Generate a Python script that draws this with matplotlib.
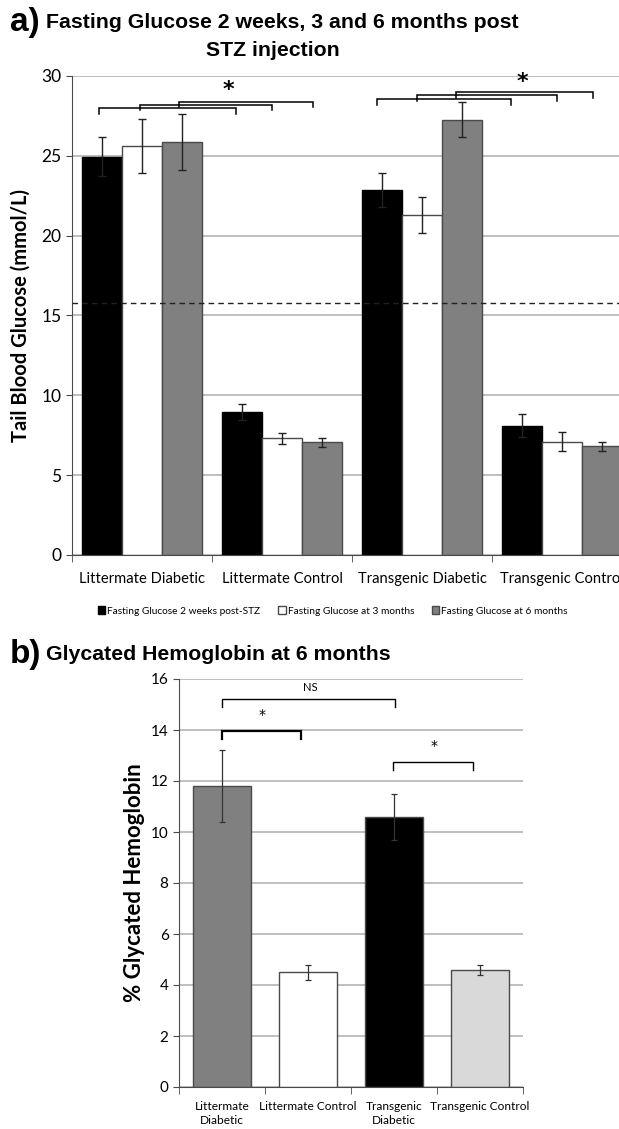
import matplotlib.pyplot as plt
import numpy as np

# panel a data
groups_a = ["Littermate Diabetic", "Littermate Control", "Transgenic Diabetic", "Transgenic Control"]
series_a = ["Fasting Glucose 2 weeks post-STZ", "Fasting Glucose at 3 months", "Fasting Glucose at 6 months"]
wk2 = [24.95, 8.95, 22.85, 8.1]
wk2_err = [1.2, 0.5, 1.05, 0.7]
m3 = [25.6, 7.3, 21.3, 7.1]
m3_err = [1.7, 0.35, 1.15, 0.6]
m6 = [25.85, 7.05, 27.25, 6.8]
m6_err = [1.75, 0.3, 1.1, 0.28]
threshold = 15.8

# panel b data
groups_b = ["Littermate\nDiabetic", "Littermate Control", "Transgenic\nDiabetic", "Transgenic Control"]
hba1c = [11.8, 4.5, 10.6, 4.6]
hba1c_err = [1.4, 0.3, 0.9, 0.2]

tickfont = "Lato"
titlefont = "Liberation Sans"
grid_c = "#b4b4b4"
edge_c = "#4a4a4a"

fig = plt.figure(figsize=(6.19, 11.29), dpi=100)

# ---------------- panel a ----------------
ax = fig.add_axes([72 / 619, 1 - 555 / 1129, 560 / 619, 479 / 1129])
x = np.arange(len(groups_a))
w = 0.2857
cols = ["black", "white", "#808080"]
edges = ["black", edge_c, edge_c]
for k, (vals, errs) in enumerate([(wk2, wk2_err), (m3, m3_err), (m6, m6_err)]):
    ax.bar(x + (k - 1) * w, vals, w, color=cols[k], edgecolor=edges[k], linewidth=1,
           label=series_a[k], zorder=2)
    ax.errorbar(x + (k - 1) * w, vals, yerr=errs, fmt="none", ecolor="#222222",
                elinewidth=1, capsize=2.7, capthick=1, zorder=3)

ax.axhline(threshold, color="#222222", ls=(0, (4, 3)), lw=1, zorder=4)
ax.set_xlim(-0.5, 3.5)
ax.set_ylim(0, 30)
ax.set_yticks(range(0, 31, 5))
ax.yaxis.grid(True, color=grid_c, lw=1.2, zorder=0)
ax.set_axisbelow(True)
ax.set_xticks(x)
ax.set_xticklabels(groups_a, fontsize=10.6, family=tickfont)
ax.set_xticks(np.arange(-0.5, 4, 1), minor=True)
ax.tick_params(axis="x", which="major", length=0, pad=12)
ax.tick_params(axis="x", which="minor", length=5, color=edge_c)
ax.tick_params(axis="y", length=4, color=edge_c, labelsize=12.5)
for lab in ax.get_yticklabels():
    lab.set_family(tickfont)
for s in ["top", "right"]:
    ax.spines[s].set_visible(False)
for s in ["left", "bottom"]:
    ax.spines[s].set_color(edge_c)
ax.set_ylabel("Tail Blood Glucose (mmol/L)", fontsize=14.5, fontweight="bold",
              family=tickfont, labelpad=8)


def bracket(a, x1, x2, y, tip, lw=1.1):
    a.plot([x1, x1, x2, x2], [y - tip, y, y, y - tip], color="black", lw=lw,
           zorder=5, clip_on=False, solid_joinstyle="miter")


# brackets over littermate groups and transgenic groups
br_a = [(-0.307, 0.671, 28.0), (-0.014, 0.929, 28.2), (0.264, 1.221, 28.4),
        (1.679, 2.636, 28.55), (1.964, 2.964, 28.8), (2.243, 3.221, 29.0)]
for x1, x2, y in br_a:
    bracket(ax, x1, x2, y, 0.35)
ax.text(0.614, 28.5, "*", ha="center", va="bottom", fontsize=16, fontweight="bold")
ax.text(2.714, 29.0, "*", ha="center", va="bottom", fontsize=16, fontweight="bold")

fig.legend(loc="center", bbox_to_anchor=(333 / 619, 1 - 611 / 1129), ncol=3,
           frameon=False, prop={"family": tickfont, "size": 7.3},
           handlelength=0.7, handleheight=0.7, handletextpad=0.2, columnspacing=1.8)

fig.text(10 / 619, 1 - 22 / 1129, "a)", fontsize=24, fontweight="bold",
         family=titlefont, va="center")
fig.text(46 / 619, 1 - 22 / 1129, "Fasting Glucose 2 weeks, 3 and 6 months post",
         fontsize=15.3, fontweight="bold", family=titlefont, va="center")
fig.text(273 / 619, 1 - 50 / 1129, "STZ injection",
         fontsize=15.3, fontweight="bold", family=titlefont, va="center", ha="center")

# ---------------- panel b ----------------
bx = fig.add_axes([179 / 619, 1 - 1087 / 1129, 344 / 619, 408 / 1129])
xb = np.arange(len(groups_b))
bcols = ["#808080", "white", "black", "#d9d9d9"]
bx.bar(xb, hba1c, 0.67, color=bcols, edgecolor=edge_c, linewidth=1, zorder=2)
bx.errorbar(xb, hba1c, yerr=hba1c_err, fmt="none", ecolor="#333333",
            elinewidth=0.9, capsize=2, capthick=0.9, zorder=3)
bx.set_xlim(-0.5, 3.5)
bx.set_ylim(0, 16)
bx.set_yticks(range(0, 17, 2))
bx.yaxis.grid(True, color=grid_c, lw=1.2, zorder=0)
bx.set_axisbelow(True)
bx.set_xticks(xb)
bx.set_xticklabels(groups_b, fontsize=8.6, family=tickfont, linespacing=1.4)
bx.set_xticks(np.arange(-0.5, 4, 1), minor=True)
bx.tick_params(axis="x", which="major", length=0, pad=10)
bx.tick_params(axis="x", which="minor", length=5, color=edge_c)
bx.tick_params(axis="y", length=4, color=edge_c, labelsize=11)
for lab in bx.get_yticklabels():
    lab.set_family(tickfont)
for s in ["top", "right"]:
    bx.spines[s].set_visible(False)
for s in ["left", "bottom"]:
    bx.spines[s].set_color(edge_c)
bx.set_ylabel("% Glycated Hemoglobin", fontsize=16, fontweight="bold",
              family=tickfont, labelpad=4)

bracket(bx, 0.0, 2.01, 15.2, 0.3, lw=1.0)
bracket(bx, 0.0, 0.92, 13.95, 0.3, lw=1.6)
bracket(bx, 1.99, 2.92, 12.75, 0.3, lw=1.0)
bx.text(1.03, 15.45, "NS", ha="center", va="bottom", fontsize=8, family=tickfont)
bx.text(0.465, 14.3, "*", ha="center", va="bottom", fontsize=10)
bx.text(2.465, 13.1, "*", ha="center", va="bottom", fontsize=10)

fig.text(10 / 619, 1 - 655 / 1129, "b)", fontsize=24, fontweight="bold",
         family=titlefont, va="center")
fig.text(46 / 619, 1 - 655 / 1129, "Glycated Hemoglobin at 6 months",
         fontsize=15.3, fontweight="bold", family=titlefont, va="center")

fig.savefig("out.png", dpi=100)
